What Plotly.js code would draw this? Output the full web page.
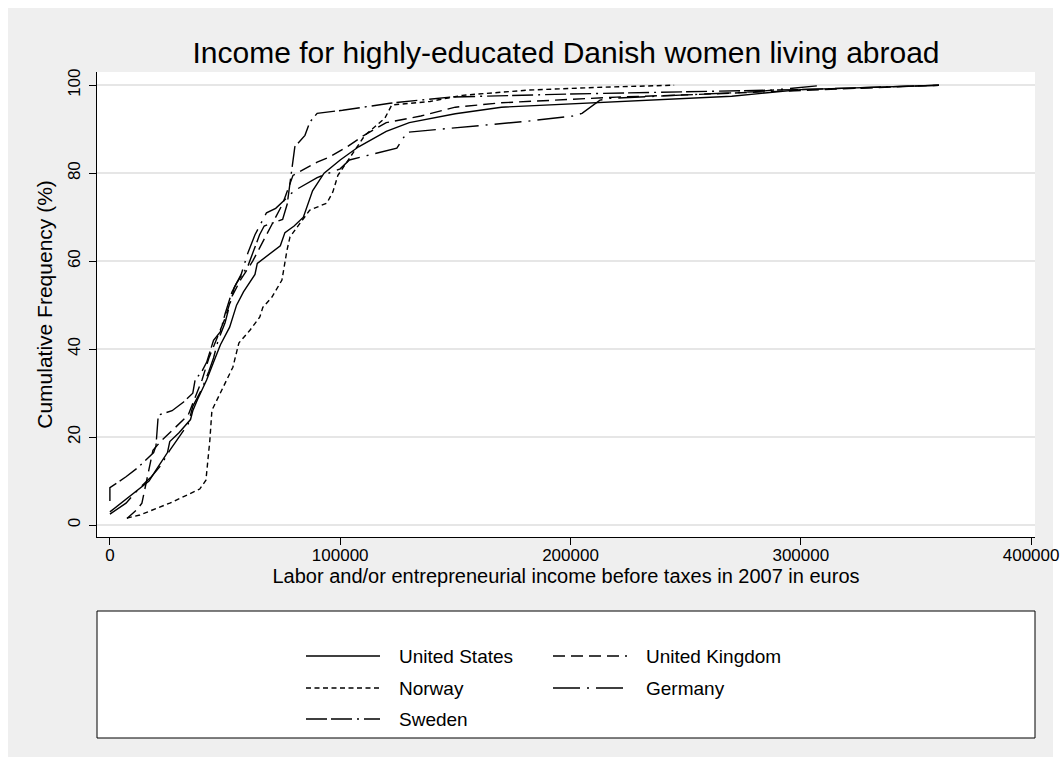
<!DOCTYPE html>
<html>
<head>
<meta charset="utf-8">
<script src="https://cdn.plot.ly/plotly-3.0.1.min.js"></script>
<style>html,body{margin:0;padding:0;background:#fff;}#chart{width:1061px;height:765px;}</style>
</head>
<body>
<div id="chart"></div>
<script>
// ---- data (income in euros, cumulative frequency in %) ----
const seriesNames = ["United States", "United Kingdom", "Norway", "Germany", "Sweden"];

const usIncome = [0, 10000, 17000, 20000, 25000, 26000, 30000, 35000, 36000, 38000, 42000, 45000, 48000, 52000, 55000, 58000, 63000, 64000, 70000, 74000, 76000, 80000, 84000, 88000, 93000, 100000, 108000, 120000, 130000, 140000, 150000, 170000, 200000, 230000, 270000, 300000, 330000, 360000];
const usCum    = [3, 7, 10, 12.5, 16.5, 19, 21, 24, 26, 28.5, 33, 37, 41, 45, 50, 53, 57, 59.5, 62, 63.5, 66.5, 68, 70, 76, 80, 83, 86, 89.5, 91.5, 92.5, 93.5, 95, 95.8, 96.5, 97.5, 99, 99.5, 100];

const ukIncome = [7400, 11700, 13900, 16000, 18700, 22000, 27000, 30000, 34000, 37000, 40000, 43000, 46000, 50000, 53000, 57000, 62000, 66000, 70000, 75000, 79500, 90000, 95000, 103000, 110000, 120000, 135000, 150000, 170000, 200000, 220000, 250000, 300000, 330000, 360000];
const ukCum    = [1.5, 3.5, 5, 10, 17, 19, 21.5, 23, 25, 29, 33, 38, 42, 47, 52, 56, 60, 64, 68, 73, 79.5, 82.5, 83.6, 86, 88.5, 91.5, 93, 95, 96, 96.8, 97.3, 97.8, 98.8, 99.4, 100];

const noIncome = [7400, 13000, 26000, 39000, 41700, 43400, 44300, 49100, 53400, 56000, 60800, 65100, 66400, 70300, 74700, 76900, 78200, 82500, 86800, 94200, 96800, 99000, 102000, 106400, 110700, 119400, 122400, 139000, 153000, 182000, 211500, 245000];
const noCum    = [1.6, 2.3, 5, 8.2, 10.2, 19.3, 26.1, 31.4, 35.9, 41.4, 44.3, 47.3, 49.5, 51.8, 55.7, 62.5, 65.5, 68.6, 71.6, 73.2, 75.7, 79.5, 81.8, 85.2, 88.6, 92.5, 95.5, 96.3, 97.7, 98.9, 99.5, 100];

const deIncome = [0, 7000, 13000, 18000, 22000, 26000, 30000, 34000, 36000, 40000, 43000, 45000, 47000, 50000, 52000, 54000, 57000, 60000, 63000, 65000, 68000, 72000, 76000, 80000, 90000, 100000, 104000, 115000, 124600, 129000, 147600, 181000, 201000, 205000, 212800, 217000, 250000, 280000, 310000];
const deCum    = [2.5, 5, 8.5, 11, 13.5, 17, 20, 23, 27, 31, 35, 38, 42, 46, 50, 54, 57, 62, 66, 68, 71, 72, 74, 76, 79, 81, 83, 84.5, 85.7, 89.3, 90.2, 91.8, 93, 93.6, 96.6, 97, 97.8, 98.5, 100];

const seIncome = [0, 0, 7000, 12000, 19000, 20000, 21000, 27000, 32000, 36000, 37000, 40000, 42000, 45000, 48000, 50000, 53000, 55000, 60000, 63000, 65000, 67000, 70000, 75000, 77000, 78200, 79500, 80300, 84700, 86800, 90000, 101000, 121600, 147600, 200000, 250000, 300000, 360000];
const seCum    = [5.5, 8.5, 11, 13, 16.5, 18, 25, 26, 28, 30, 33, 35, 37, 42, 44, 48, 53, 55, 59, 63, 66, 68, 68.5, 69.5, 73, 77.7, 83.6, 86, 88.6, 91.6, 93.6, 94.3, 95.9, 97.3, 98, 98.5, 99, 100];

const xTickVals = [0, 100000, 200000, 300000, 400000];
const yTickVals = [0, 20, 40, 60, 80, 100];

// ---- styling ----
const dashes = ["solid", "12px,6px", "5px,3.5px", "27px,7px,2px,7px", "21px,4px,21px,5px,2px,5px"];
const xs = [usIncome, ukIncome, noIncome, deIncome, seIncome];
const ys = [usCum, ukCum, noCum, deCum, seCum];
const FONT = "Liberation Sans, Arial, sans-serif";

const traces = seriesNames.map((n, i) => ({
  type: "scatter", mode: "lines", name: n,
  x: xs[i], y: ys[i],
  line: {color: "#000", width: 1.4, dash: dashes[i]},
  showlegend: false, hoverinfo: "skip"
}));

// plot area in pixels
const L = 97, R = 1035, T = 72, B = 537, W = 1061, H = 765;
const px = v => (v - L) / (R - L);
const py = v => (B - v) / (B - T);

const shapes = [];
const annotations = [];
// white outer frame
shapes.push({type: "rect", xref: "paper", yref: "paper", x0: px(0), x1: px(W), y0: py(H), y1: py(0),
  line: {color: "#fff", width: 16}, fillcolor: "rgba(0,0,0,0)", layer: "below"});
// legend box
shapes.push({type: "rect", xref: "paper", yref: "paper", x0: px(97), x1: px(1035), y0: py(738), y1: py(611),
  line: {color: "#000", width: 1}, fillcolor: "#fff", layer: "above"});
const legPos = [[306, 656], [553, 656], [306, 688], [553, 688], [306, 719]];
seriesNames.forEach((n, i) => {
  const [lx, ly] = legPos[i];
  shapes.push({type: "line", xref: "paper", yref: "paper", x0: px(lx), x1: px(lx + 74), y0: py(ly), y1: py(ly),
    line: {color: "#000", width: 1.4, dash: dashes[i]}, layer: "above"});
  annotations.push({xref: "paper", yref: "paper", x: px(lx + 91), y: py(ly), xanchor: "left", yanchor: "middle",
    text: n, showarrow: false, font: {family: FONT, size: 19, color: "#000"}});
});

const layout = {
  width: W, height: H,
  paper_bgcolor: "#efefef", plot_bgcolor: "#fff",
  margin: {l: L, r: W - R, t: T, b: H - B, pad: 0},
  showlegend: false,
  title: {text: "Income for highly-educated Danish women living abroad", font: {family: FONT, size: 30, color: "#000"},
    xref: "paper", x: 0.5, xanchor: "center", yref: "container", y: 1 - 52 / H, yanchor: "middle"},
  xaxis: {
    range: [-5600, 401700], tickvals: xTickVals, tickformat: "d",
    showgrid: false, zeroline: false, showline: true, linecolor: "#000", linewidth: 1,
    ticks: "outside", ticklen: 7, tickcolor: "#000", tickwidth: 1, ticklabelstandoff: -4,
    tickfont: {family: FONT, size: 17, color: "#000"},
    title: {text: "Labor and/or entrepreneurial income before taxes in 2007 in euros", font: {family: FONT, size: 20, color: "#000"}, standoff: 2}
  },
  yaxis: {
    range: [-2.7, 103], tickvals: yTickVals, tickangle: -90,
    showgrid: true, gridcolor: "#e6e6e6", gridwidth: 1.5, zeroline: false, showline: true, linecolor: "#000", linewidth: 1,
    ticks: "outside", ticklen: 7, tickcolor: "#000", tickwidth: 1, ticklabelstandoff: 2,
    tickfont: {family: FONT, size: 17, color: "#000"},
    title: {text: "Cumulative Frequency (%)", font: {family: FONT, size: 21, color: "#000"}, standoff: 6}
  },
  shapes: shapes, annotations: annotations
};

Plotly.newPlot("chart", traces, layout, {displayModeBar: false, staticPlot: true});
</script>
</body>
</html>
